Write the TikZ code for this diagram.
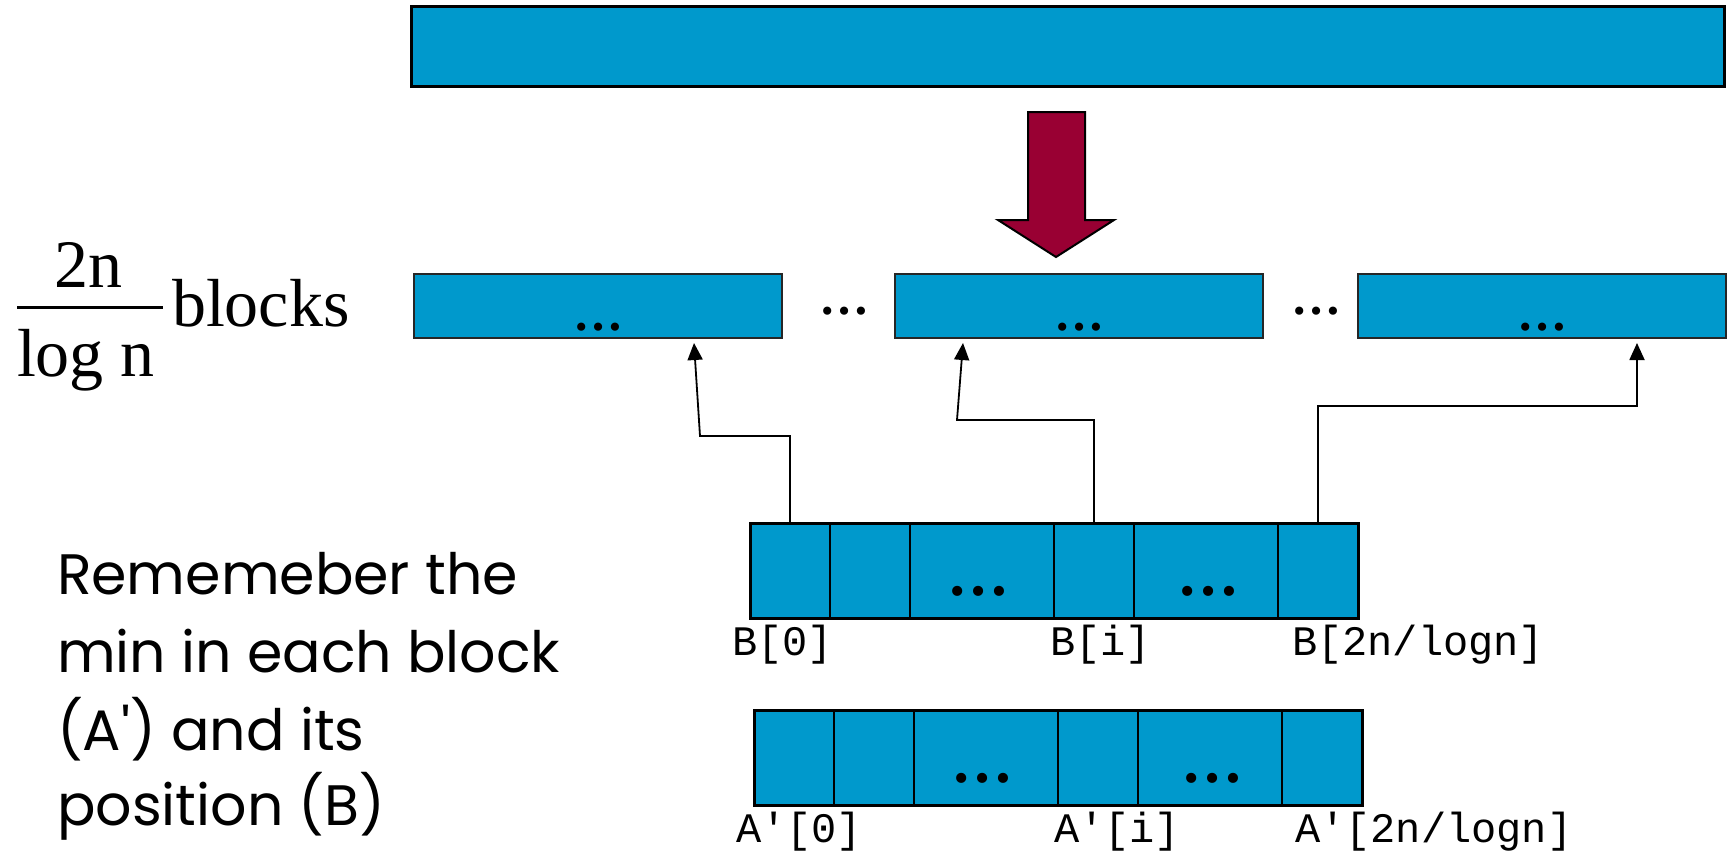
\documentclass[tikz,border=0pt]{standalone}
\usepackage{fontspec}
\setmainfont{Liberation Serif}
\newfontfamily\monofont{Liberation Mono}
\newfontfamily\handfont{Poppins}
\usetikzlibrary{arrows.meta,calc}
\definecolor{cellblue}{HTML}{0099CC}
\definecolor{wine}{HTML}{990033}

\begin{document}
\begin{tikzpicture}[x=1pt,y=-1pt,
  every node/.style={inner sep=0pt,outer sep=0pt},
  bar/.style={draw=black,fill=cellblue,line width=3pt,anchor=north west},
  blockbox/.style={draw=black!85,fill=cellblue,line width=2.2pt,
    minimum width=368pt,minimum height=64pt,anchor=north west},
  cell/.style={draw=black,fill=cellblue,line width=2pt,
    minimum height=95pt,anchor=north west},
  narrow/.style={cell,minimum width=80pt},
  wide/.style={cell,minimum width=144pt},
  frame/.style={draw=black,line width=3pt},
  link/.style={draw=black,line width=1.8pt,
    -{Triangle[length=17pt,width=15pt]}},
  idx/.style={font=\monofont\fontsize{42}{50}\selectfont,anchor=base west},
  celldots/.style={font=\bfseries\fontsize{62}{70}\selectfont,anchor=base},
  gapdots/.style={font=\bfseries\fontsize{50}{60}\selectfont,anchor=base},
  note/.style={font=\handfont\fontsize{57}{72}\selectfont,anchor=base west},
  serif/.style={font=\fontsize{68}{80}\selectfont,anchor=base}
]
\useasboundingbox (0,0) rectangle (1733,852);

% whole array
\node[bar,minimum width=1313pt,minimum height=80pt] (top) at (411,6) {};

% split arrow
\path[draw=black,line width=2pt,fill=wine,line join=miter]
  (1028,112) -- (1085,112) -- (1085,220) -- (1114,220) -- (1056,257)
  -- (998,220) -- (1028,220) -- cycle;

% the 2n/log n blocks
\node[blockbox] (m1) at (414,274) {};
\node[blockbox] (m2) at (895,274) {};
\node[blockbox] (m3) at (1358,274) {};
\node[gapdots] (d1) at (598,330) {…};
\node[gapdots] (d2) at (1079,330) {…};
\node[gapdots] (d3) at (1542,330) {…};
\node[gapdots] (g1) at (844,314) {…};
\node[gapdots] (g2) at (1316,314) {…};

% fraction label
\node[serif] (num) at (88,287) {2n};
\node[serif] (den) at (86,376) {log n};
\draw[line width=3pt] (17,307) coordinate (fl) -- (163,307) coordinate (fr);
\node[serif,anchor=base west] (blk) at (172,326) {blocks};

% array B
\node[narrow] (b0) at (750,523) {};
\node[narrow] (b1) at (830,523) {};
\node[wide]   (b2) at (910,523) {};
\node[narrow] (b3) at (1054,523) {};
\node[wide]   (b4) at (1134,523) {};
\node[narrow] (b5) at (1278,523) {};
\draw[frame] (b0.north west) rectangle (b5.south east);
\node[celldots] (bd1) at (978,595) {…};
\node[celldots] (bd2) at (1208,595) {…};
\node[idx] (lb0) at (732,655) {B[0]};
\node[idx] (lbi) at (1050,655) {B[i]};
\node[idx] (lbn) at (1292,655) {B[2n/logn]};

% array A'
\node[narrow] (a0) at (754,710) {};
\node[narrow] (a1) at (834,710) {};
\node[wide]   (a2) at (914,710) {};
\node[narrow] (a3) at (1058,710) {};
\node[wide]   (a4) at (1138,710) {};
\node[narrow] (a5) at (1282,710) {};
\draw[frame] (a0.north west) rectangle (a5.south east);
\node[celldots] (ad1) at (982,782) {…};
\node[celldots] (ad2) at (1212,782) {…};
\node[idx] (la0) at (736,842) {A′[0]};
\node[idx] (lai) at (1054,842) {A′[i]};
\node[idx] (lan) at (1295,842) {A′[2n/logn]};

% pointers from B into the blocks
\coordinate (e1) at (700,436);
\coordinate (t1) at (694,343);
\coordinate (e2) at (957,420);
\coordinate (t2) at (963,343);
\coordinate (e3) at (1637,406);
\coordinate (t3) at (1637,343);
\draw[link] (b0.north) |- (e1) -- (t1);
\draw[link] (b3.north) |- (e2) -- (t2);
\draw[link] (b5.north) |- (e3) -- (t3);

% explanation
\node[note] (n1) at (57,594) {Rememeber the};
\node[note] (n2) at (57,672) {min in each block};
\node[note] (n3) at (57,750) {(A') and its};
\node[note] (n4) at (57,825) {position (B)};
\end{tikzpicture}
\end{document}
